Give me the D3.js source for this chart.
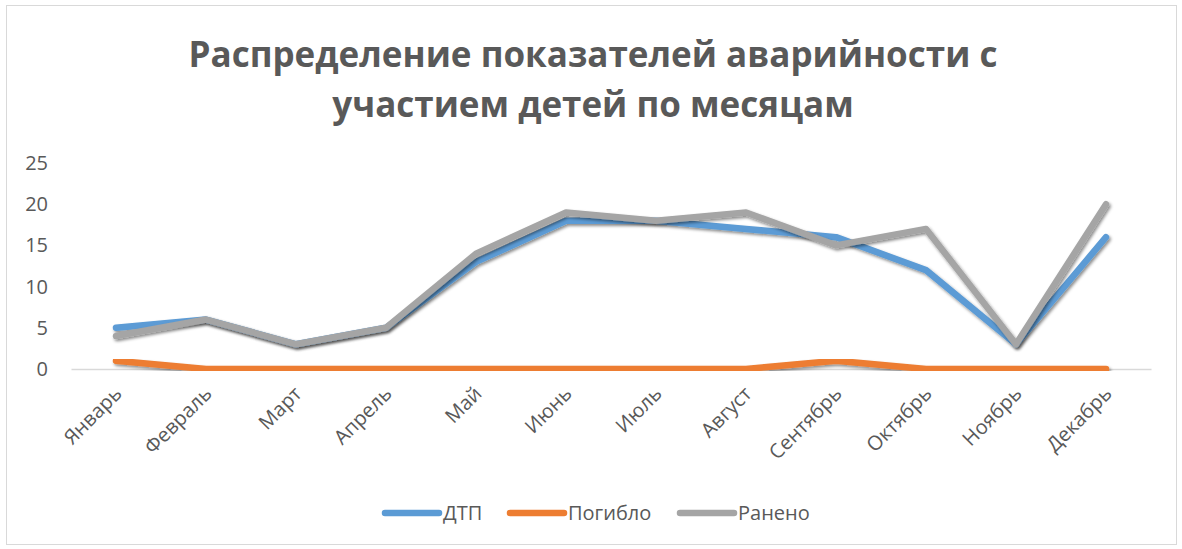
<!doctype html>
<html lang="ru">
<head>
<meta charset="utf-8">
<title>Распределение показателей аварийности</title>
<script src="https://cdn.jsdelivr.net/npm/d3@7"></script>
<style>
    body { margin: 0; background: #fff; }
    text { font-family: "Open Sans", "DejaVu Sans", sans-serif; fill: #595959; }
</style>
</head>
<body>
<svg id="chart" width="1182" height="549"></svg>
<script>
    const months = ["Январь", "Февраль", "Март", "Апрель", "Май", "Июнь", "Июль", "Август", "Сентябрь", "Октябрь", "Ноябрь", "Декабрь"];
    const dtp = [5, 6, 3, 5, 13, 18, 18, 17, 16, 12, 3, 16];
    const killed = [1, 0, 0, 0, 0, 0, 0, 0, 1, 0, 0, 0];
    const injured = [4, 6, 3, 5, 14, 19, 18, 19, 15, 17, 3, 20];
    const yTicks = [0, 5, 10, 15, 20, 25];
    const seriesNames = ["ДТП", "Погибло", "Ранено"];
    const colors = ["#5b9bd5", "#ed7d31", "#a5a5a5"];

    const svg = d3.select("#chart");
    const margin = {top: 163, right: 31, bottom: 180, left: 71};
    const width = +svg.attr("width") - margin.left - margin.right;
    const height = +svg.attr("height") - margin.top - margin.bottom;

    // frame
    svg.append("rect")
        .attr("x", 6.5).attr("y", 5.5)
        .attr("width", 1170).attr("height", 539)
        .attr("fill", "#fff").attr("stroke", "#d9d9d9");

    const defs = svg.append("defs");
    const f = defs.append("filter").attr("id", "shadow")
        .attr("x", "-10%").attr("y", "-10%").attr("width", "120%").attr("height", "130%");
    f.append("feDropShadow")
        .attr("dx", 1.5).attr("dy", 2).attr("stdDeviation", 1.8)
        .attr("flood-color", "#000").attr("flood-opacity", 0.45);

    // title
    const title = svg.append("text")
        .attr("text-anchor", "middle")
        .style("font-family", "'Open Sans', sans-serif")
        .style("font-weight", "bold")
        .style("font-size", "35px");
    title.append("tspan").attr("x", 593).attr("y", 67).text("Распределение показателей аварийности с");
    title.append("tspan").attr("x", 593).attr("y", 117).text("участием детей по месяцам");

    const g = svg.append("g")
        .attr("transform", "translate(" + margin.left + "," + margin.top + ")");

    const x = d3.scaleBand()
        .domain(months)
        .range([0, width]);

    const y = d3.scaleLinear()
        .domain([0, 25])
        .range([height, 0]);

    // y labels
    g.append("g")
        .call(d3.axisLeft(y).tickValues(yTicks).tickSize(0).tickPadding(23))
        .call(s => s.select(".domain").remove())
        .selectAll("text")
        .style("font-size", "20px")
        .style("fill", "#595959");

    // x axis
    const xAxis = g.append("g")
        .attr("transform", "translate(0," + height + ")")
        .call(d3.axisBottom(x).tickSize(0).tickPadding(0));
    xAxis.select(".domain").attr("stroke", "#d9d9d9").attr("stroke-width", 1.5);
    xAxis.selectAll("text")
        .style("font-size", "20px")
        .style("fill", "#595959")
        .attr("text-anchor", "end")
        .attr("dy", 0)
        .attr("transform", "translate(7,26) rotate(-45)");

    const line = d3.line()
        .x((d, i) => x(months[i]) + x.bandwidth() / 2)
        .y(d => y(d));

    [dtp, killed, injured].forEach((vals, k) => {
        g.append("path")
            .datum(vals)
            .attr("fill", "none")
            .attr("stroke", colors[k])
            .attr("stroke-width", 6.5)
            .attr("stroke-linecap", "round")
            .attr("stroke-linejoin", "round")
            .attr("filter", "url(#shadow)")
            .attr("d", line);
    });

    // legend
    const legendX = [385, 510, 680];
    const legend = svg.append("g").attr("transform", "translate(0,513)");
    seriesNames.forEach((name, k) => {
        legend.append("line")
            .attr("x1", legendX[k]).attr("x2", legendX[k] + 54)
            .attr("y1", 0).attr("y2", 0)
            .attr("stroke", colors[k])
            .attr("stroke-width", 6.5)
            .attr("stroke-linecap", "round");
        legend.append("text")
            .attr("x", legendX[k] + 58)
            .attr("y", 0)
            .attr("dy", "0.35em")
            .style("font-size", "20px")
            .text(name);
    });
</script>
</body>
</html>
